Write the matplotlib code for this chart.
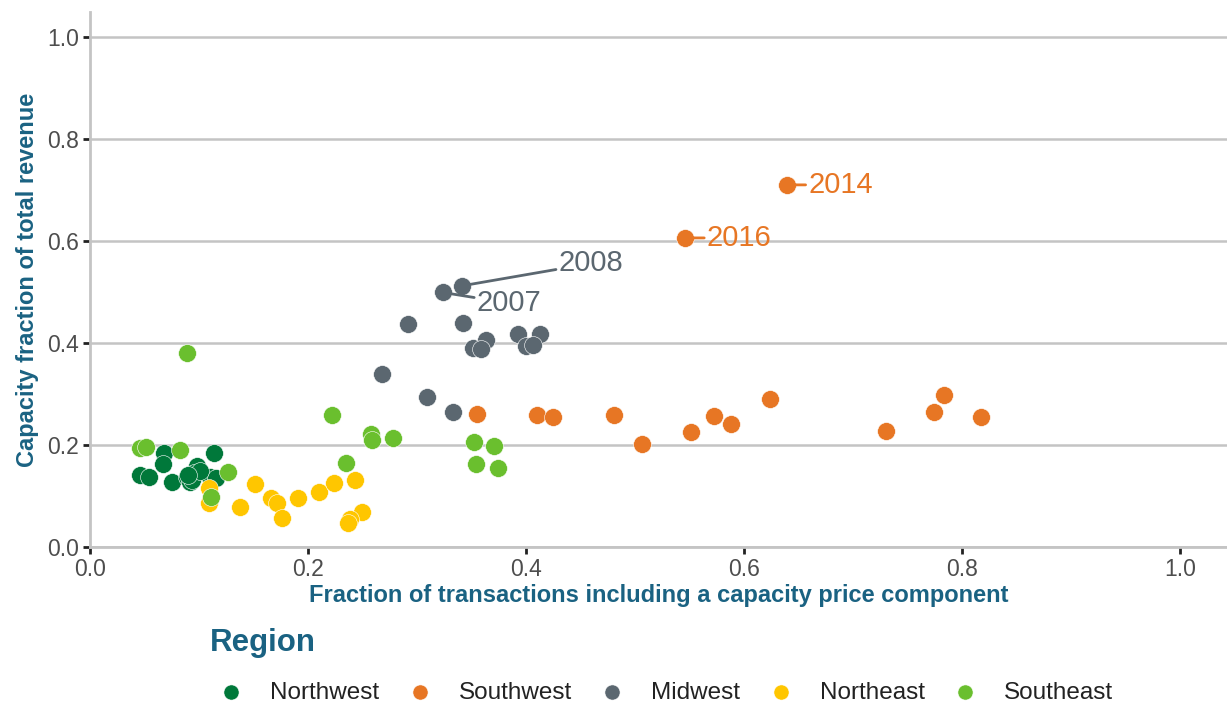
import matplotlib.pyplot as plt
import numpy as np

# capacity share data by region (x: fraction of transactions with capacity price,
# y: capacity fraction of total revenue)
regions = ['Northwest', 'Southwest', 'Midwest', 'Northeast', 'Southeast']
colors = ['#00783a', '#e77624', '#5b6770', '#ffc600', '#6abf2e']

nw_x = [0.046, 0.054, 0.068, 0.067, 0.075, 0.089, 0.092, 0.098, 0.095, 0.114,
        0.110, 0.116, 0.094, 0.101, 0.090]
nw_y = [0.141, 0.138, 0.184, 0.163, 0.128, 0.138, 0.128, 0.158, 0.145, 0.185,
        0.138, 0.135, 0.132, 0.150, 0.142]

sw_x = [0.355, 0.410, 0.425, 0.481, 0.506, 0.551, 0.572, 0.588, 0.624, 0.730,
        0.774, 0.783, 0.817, 0.546, 0.639]
sw_y = [0.260, 0.258, 0.254, 0.258, 0.202, 0.225, 0.257, 0.241, 0.290, 0.228,
        0.265, 0.299, 0.254, 0.606, 0.710]

mw_x = [0.324, 0.341, 0.292, 0.342, 0.393, 0.413, 0.363, 0.351, 0.359, 0.400,
        0.406, 0.309, 0.333, 0.268]
mw_y = [0.499, 0.512, 0.437, 0.440, 0.418, 0.418, 0.406, 0.390, 0.388, 0.394,
        0.397, 0.295, 0.265, 0.340]

ne_x = [0.151, 0.138, 0.166, 0.172, 0.176, 0.191, 0.210, 0.224, 0.243, 0.250,
        0.239, 0.237, 0.109, 0.109]
ne_y = [0.123, 0.078, 0.097, 0.087, 0.056, 0.097, 0.108, 0.125, 0.131, 0.069,
        0.054, 0.048, 0.115, 0.087]

se_x = [0.046, 0.051, 0.083, 0.089, 0.127, 0.111, 0.222, 0.235, 0.258, 0.259,
        0.278, 0.352, 0.371, 0.354, 0.374]
se_y = [0.195, 0.197, 0.190, 0.381, 0.148, 0.099, 0.259, 0.164, 0.222, 0.210,
        0.213, 0.205, 0.199, 0.163, 0.155]

xs = [nw_x, sw_x, mw_x, ne_x, se_x]
ys = [nw_y, sw_y, mw_y, ne_y, se_y]

# labelled years: (label, x, y, text x, text y, color)
labels = [('2008', 0.341, 0.512, 0.430, 0.556, '#5b6770'),
          ('2007', 0.324, 0.499, 0.355, 0.478, '#5b6770'),
          ('2016', 0.546, 0.606, 0.566, 0.606, '#e77624'),
          ('2014', 0.639, 0.710, 0.659, 0.710, '#e77624')]

plt.rcParams['font.family'] = ['Liberation Sans', 'DejaVu Sans']
title_col = '#1a6282'

fig = plt.figure(figsize=(12.27, 7.04), dpi=100)
ax = fig.add_axes([0.0733, 0.223, 0.9267, 0.760])

for name, c, x, y in zip(regions, colors, xs, ys):
    ax.scatter(x, y, s=165, color=c, edgecolor='white', linewidth=0.4,
               label=name, zorder=3)

for lab, px, py, tx, ty, c in labels:
    ax.annotate(lab, xy=(px, py), xytext=(tx, ty), color=c, fontsize=21,
                ha='left', va='center',
                arrowprops=dict(arrowstyle='-', color=c, lw=2,
                                shrinkA=0, shrinkB=0),
                zorder=4)

ax.set_xlim(0, 1.043)
ax.set_ylim(0, 1.049)
ax.set_xticks(np.arange(0, 1.01, 0.2))
ax.set_yticks(np.arange(0, 1.01, 0.2))
ax.set_xticklabels(['0.0', '0.2', '0.4', '0.6', '0.8', '1.0'])
ax.set_yticklabels(['0.0', '0.2', '0.4', '0.6', '0.8', '1.0'])
ax.tick_params(labelsize=16.5, labelcolor='#4d4d4d', color='#222222',
               width=2, length=5, pad=3)
ax.yaxis.grid(True, color='#c4c4c4', lw=1.8, zorder=0)
ax.set_axisbelow(True)
for s in ['top', 'right']:
    ax.spines[s].set_visible(False)
for s in ['left', 'bottom']:
    ax.spines[s].set_color('#c4c4c4')
    ax.spines[s].set_linewidth(2)

ax.set_xlabel('Fraction of transactions including a capacity price component',
              fontsize=17, fontweight='bold', color=title_col, labelpad=2)
ax.set_ylabel('Capacity fraction of total revenue', fontsize=17,
              fontweight='bold', color=title_col, labelpad=6)

fig.text(0.171, 0.087, 'Region', fontsize=22.5, fontweight='bold',
         color=title_col, va='center', ha='left')
fig.legend(loc='center left', bbox_to_anchor=(0.1625, 0.016), ncol=5,
           frameon=False, fontsize=17.5, handletextpad=1.2, columnspacing=1.27,
           markerscale=0.85, handlelength=0.8, labelcolor='#222222')

fig.savefig('out.png', dpi=100)
